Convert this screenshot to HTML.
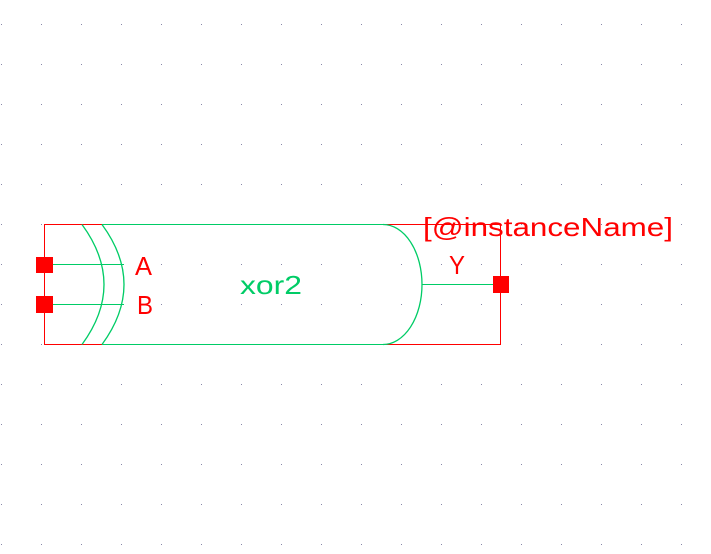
<!DOCTYPE html>
<html><head><meta charset="utf-8"><style>
html,body{margin:0;padding:0;background:#fff;}
svg{display:block;}
text{font-family:"Liberation Sans",sans-serif;}
</style></head><body>
<svg width="711" height="554" viewBox="0 0 711 554">
<g id="grid"></g>
<g fill="none" stroke-width="1.2" shape-rendering="crispEdges">
<path d="M102 224.5H44.5V344.5H102" stroke="#ff0000"/>
<path d="M383 224.5H500.5V344.5H383" stroke="#ff0000"/>
<path d="M102 224.5H383" stroke="#00cc66"/>
<path d="M102 344.5H383" stroke="#00cc66"/>
<path d="M52 264.5H124" stroke="#00cc66"/>
<path d="M52 304.5H124" stroke="#00cc66"/>
<path d="M422 284.5H493" stroke="#00cc66"/>
</g>
<g fill="none" stroke="#00cc66" stroke-width="1.3">
<path d="M82 224.5Q126 284.5 82 344.5"/>
<path d="M102 224.5Q146 284.5 102 344.5"/>
<path d="M383 224.5A39 60 0 0 1 383 344.5"/>
</g>
<rect x="36" y="257" width="17" height="16" fill="#ff0000"/>
<rect x="36" y="296" width="17" height="17" fill="#ff0000"/>
<rect x="493" y="276" width="16" height="17" fill="#ff0000"/>
<text x="135" y="275" font-size="26" fill="#ff0000" textLength="17" lengthAdjust="spacingAndGlyphs">A</text>
<text x="137" y="314" font-size="26" fill="#ff0000" textLength="16" lengthAdjust="spacingAndGlyphs">B</text>
<text x="449" y="274" font-size="26" fill="#ff0000" textLength="16" lengthAdjust="spacingAndGlyphs">Y</text>
<text x="240" y="294" font-size="26" fill="#00cc66" textLength="62" lengthAdjust="spacingAndGlyphs">xor2</text>
<text x="423" y="236" font-size="26" fill="#ff0000" textLength="250" lengthAdjust="spacingAndGlyphs">[@instanceName]</text>
</svg>
<script>
var g=document.getElementById('grid');
for(var y=24;y<554;y+=40){for(var x=1;x<711;x+=40){
var r=document.createElementNS('http://www.w3.org/2000/svg','rect');
r.setAttribute('x',x);r.setAttribute('y',y);r.setAttribute('width',1);r.setAttribute('height',1);r.setAttribute('fill','#8888aa');


g.appendChild(r);}}
</script>
</body></html>
